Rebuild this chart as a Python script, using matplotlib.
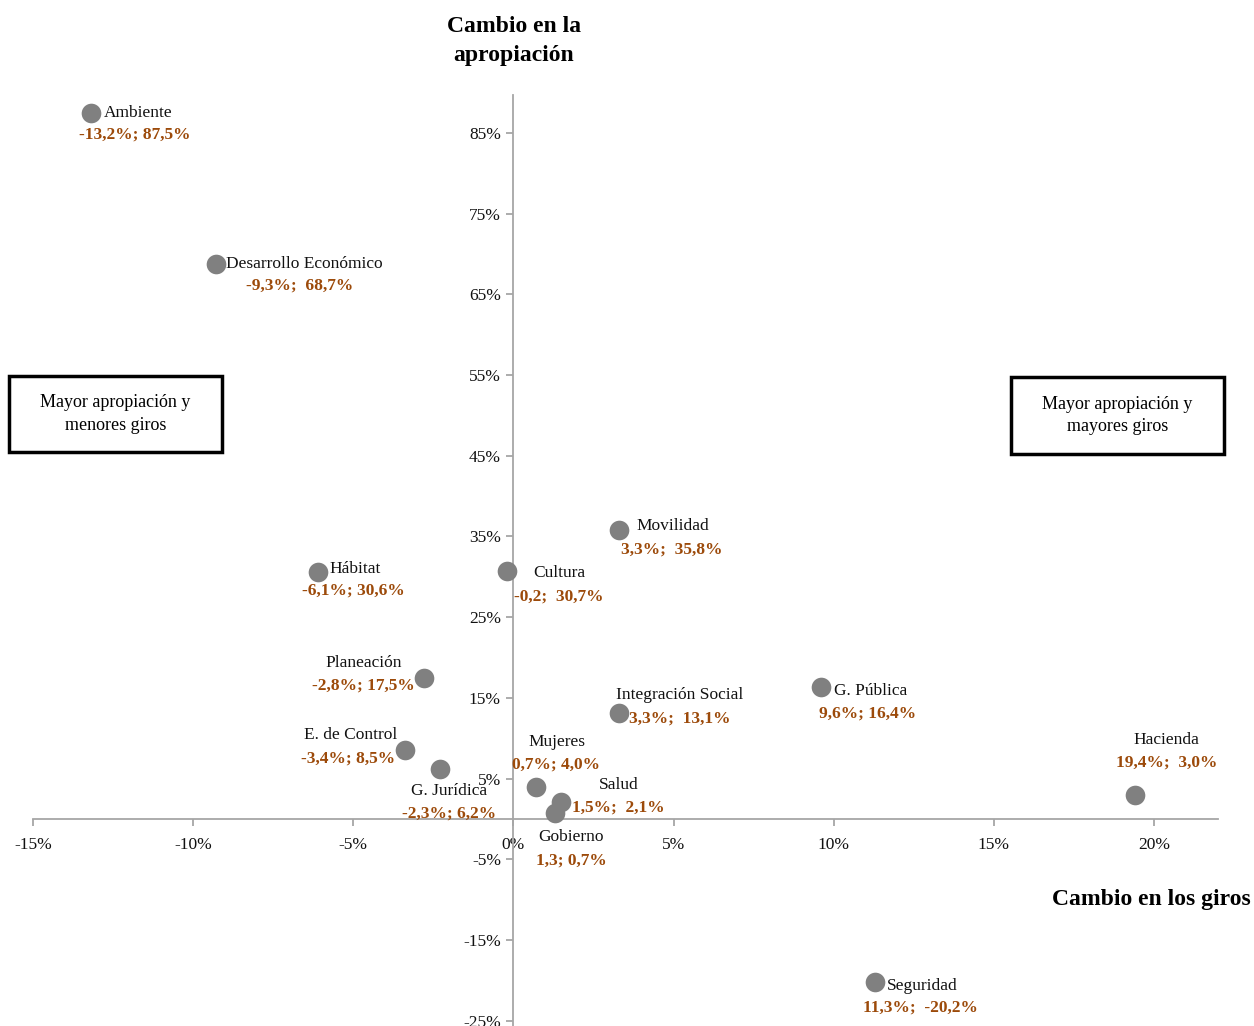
import matplotlib.pyplot as plt
from matplotlib.patches import Rectangle
from matplotlib.ticker import FuncFormatter, MultipleLocator

plt.rcParams['font.family'] = ['Liberation Serif', 'DejaVu Serif']

# sector data: change in transfers (x) vs change in appropriation (y), in %
sectores = ['Ambiente', 'Desarrollo Económico', 'Hábitat', 'Cultura', 'Movilidad',
            'Planeación', 'E. de Control', 'G. Jurídica', 'Mujeres', 'Salud',
            'Gobierno', 'Integración Social', 'G. Pública', 'Hacienda', 'Seguridad']
giros = [-13.2, -9.3, -6.1, -0.2, 3.3, -2.8, -3.4, -2.3, 0.7, 1.5, 1.3, 3.3, 9.6, 19.4, 11.3]
apropiacion = [87.5, 68.7, 30.6, 30.7, 35.8, 17.5, 8.5, 6.2, 4.0, 2.1, 0.7, 13.1, 16.4, 3.0, -20.2]
etiquetas = ['-13,2%; 87,5%', '-9,3%;  68,7%', '-6,1%; 30,6%', '-0,2;  30,7%', '3,3%;  35,8%',
             '-2,8%; 17,5%', '-3,4%; 8,5%', '-2,3%; 6,2%', '0,7%; 4,0%', '1,5%;  2,1%',
             '1,3; 0,7%', '3,3%;  13,1%', '9,6%; 16,4%', '19,4%;  3,0%', '11,3%;  -20,2%']

# label offsets in pixels: (name dx, dy, ha), (value dx, dy)
pos_nombre = [(13, 0, 'left'), (10, 0, 'left'), (11, 3, 'left'), (52, -2, 'center'),
              (54, 4, 'center'), (-60, 15, 'center'), (-54, 15, 'center'), (9, -22, 'center'),
              (21, 45, 'center'), (57, 17, 'center'), (16, -24, 'center'), (61, 18, 'center'),
              (13, -4, 'left'), (32, 55, 'center'), (12, -4, 'left')]
pos_valor = [(44, -22), (84, -21), (35, -19), (52, -25), (53, -19), (-60, -8), (-56, -8),
             (9, -45), (20, 22), (57, -6), (16, -47), (61, -5), (47, -27), (32, 32), (45, -26)]

W, H = 1254, 1026
fig = plt.figure(figsize=(W / 100, H / 100), dpi=100)
ax = fig.add_axes([33 / W, 0, 1185 / W, 931 / H])

ax.scatter(giros, apropiacion, s=200, color='#808080', zorder=3, linewidths=0)

marron = '#9C4A0A'
for i, nombre in enumerate(sectores):
    dx, dy, ha = pos_nombre[i]
    ax.annotate(nombre, (giros[i], apropiacion[i]), xytext=(dx, dy), textcoords='offset pixels',
                ha=ha, va='center', fontsize=12.5, color='#111111')
    vx, vy = pos_valor[i]
    ax.annotate(etiquetas[i], (giros[i], apropiacion[i]), xytext=(vx, vy), textcoords='offset pixels',
                ha='center', va='center', fontsize=12.5, fontweight='bold', color=marron)

ax.set_xlim(-15, 22)
ax.set_ylim(-25.65, 89.7)
ax.xaxis.set_major_locator(MultipleLocator(5))
ax.set_yticks([-25, -15, -5, 5, 15, 25, 35, 45, 55, 65, 75, 85])
fmt = FuncFormatter(lambda v, p: f'{v:.0f}%')
ax.xaxis.set_major_formatter(fmt)
ax.yaxis.set_major_formatter(fmt)

for s in ['top', 'right']:
    ax.spines[s].set_visible(False)
for s in ['left', 'bottom']:
    ax.spines[s].set_position(('data', 0))
    ax.spines[s].set_color('#A6A6A6')
    ax.spines[s].set_linewidth(1.3)
ax.tick_params(axis='both', direction='out', length=5, color='#A6A6A6', width=1.3,
               labelsize=12.5, labelcolor='#111111')
ax.tick_params(axis='x', pad=8)
ax.tick_params(axis='y', pad=4)
ax.patch.set_visible(False)

def fx(px):
    return px / W

def fy(py):
    return 1 - py / H

fig.text(fx(514), fy(41), 'Cambio en la\napropiación', ha='center', va='center',
         fontsize=17, fontweight='bold', linespacing=1.5)
fig.text(fx(1251), fy(899), 'Cambio en los giros', ha='right', va='center',
         fontsize=17, fontweight='bold')

# quadrant boxes
for x0, y0, x1, y1, txt in [(9, 376, 222, 452, 'Mayor apropiación y\nmenores giros'),
                            (1011, 377, 1224, 454, 'Mayor apropiación y\nmayores giros')]:
    fig.patches.append(Rectangle((fx(x0), fy(y1)), fx(x1) - fx(x0), fy(y0) - fy(y1),
                                 transform=fig.transFigure, fill=False, ec='black', lw=2.5))
    fig.text(fx((x0 + x1) / 2), fy((y0 + y1) / 2), txt, ha='center', va='center',
             fontsize=13, linespacing=1.4)

fig.savefig('out.png', dpi=100)
